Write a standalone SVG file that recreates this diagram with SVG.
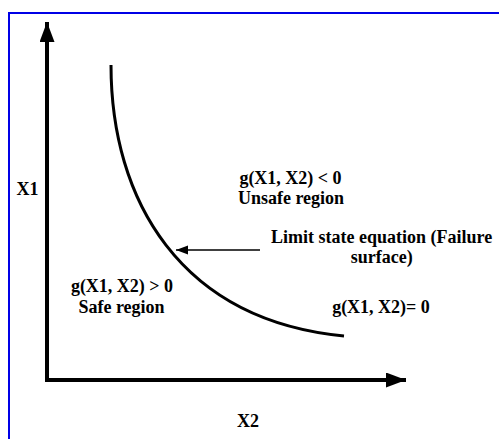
<svg xmlns="http://www.w3.org/2000/svg" width="499" height="439" viewBox="0 0 499 439">
<style>
.t{font-family:"Liberation Serif","Times New Roman",serif;font-weight:bold;font-size:18px;fill:#000}
.c{text-anchor:middle}
.ax{stroke:#000;stroke-width:4;fill:none}
</style>
<defs>
<marker id="big" markerUnits="userSpaceOnUse" markerWidth="22" markerHeight="16" refX="20" refY="7.5" orient="auto" viewBox="0 0 22 16">
<path d="M0,0 L20,7.5 L0,15 Z" fill="#000"/>
</marker>
<marker id="small" markerUnits="userSpaceOnUse" markerWidth="14" markerHeight="10" refX="12" refY="4.5" orient="auto" viewBox="0 0 14 10">
<path d="M0,0 L12,4.5 L0,9 Z" fill="#000"/>
</marker>
</defs>
<rect width="499" height="439" fill="#fff"/>
<rect id="frame" x="9" y="13" width="500" height="440" fill="none" stroke="#0000e6" stroke-width="2"/>
<g id="connectors">
<line class="ax" x1="47" y1="382" x2="47" y2="22" marker-end="url(#big)"/>
<line class="ax" x1="45" y1="380" x2="406" y2="380" marker-end="url(#big)"/>
<line x1="260" y1="250" x2="176" y2="250" stroke="#000" stroke-width="1.3" marker-end="url(#small)"/>
</g>
<g id="curve">
<path d="M111,65 C111,200 180,320 344,336" fill="none" stroke="#000" stroke-width="3"/>
</g>
<g id="label-x1"><text class="t" x="16.5" y="195">X1</text></g>
<g id="label-x2"><text class="t" x="237" y="427">X2</text></g>
<g id="unsafe">
<text class="t c" x="290.5" y="184">g(X1, X2) &lt; 0</text>
<text class="t c" x="291" y="204">Unsafe region</text>
</g>
<g id="safe">
<text class="t c" x="122" y="292">g(X1, X2) &gt; 0</text>
<text class="t c" x="121.5" y="313">Safe region</text>
</g>
<g id="limit">
<text class="t c" x="381.7" y="243">Limit state equation (Failure</text>
<text class="t c" x="381.7" y="263">surface)</text>
</g>
<g id="zero"><text class="t c" x="381" y="313">g(X1, X2)= 0</text></g>
</svg>
